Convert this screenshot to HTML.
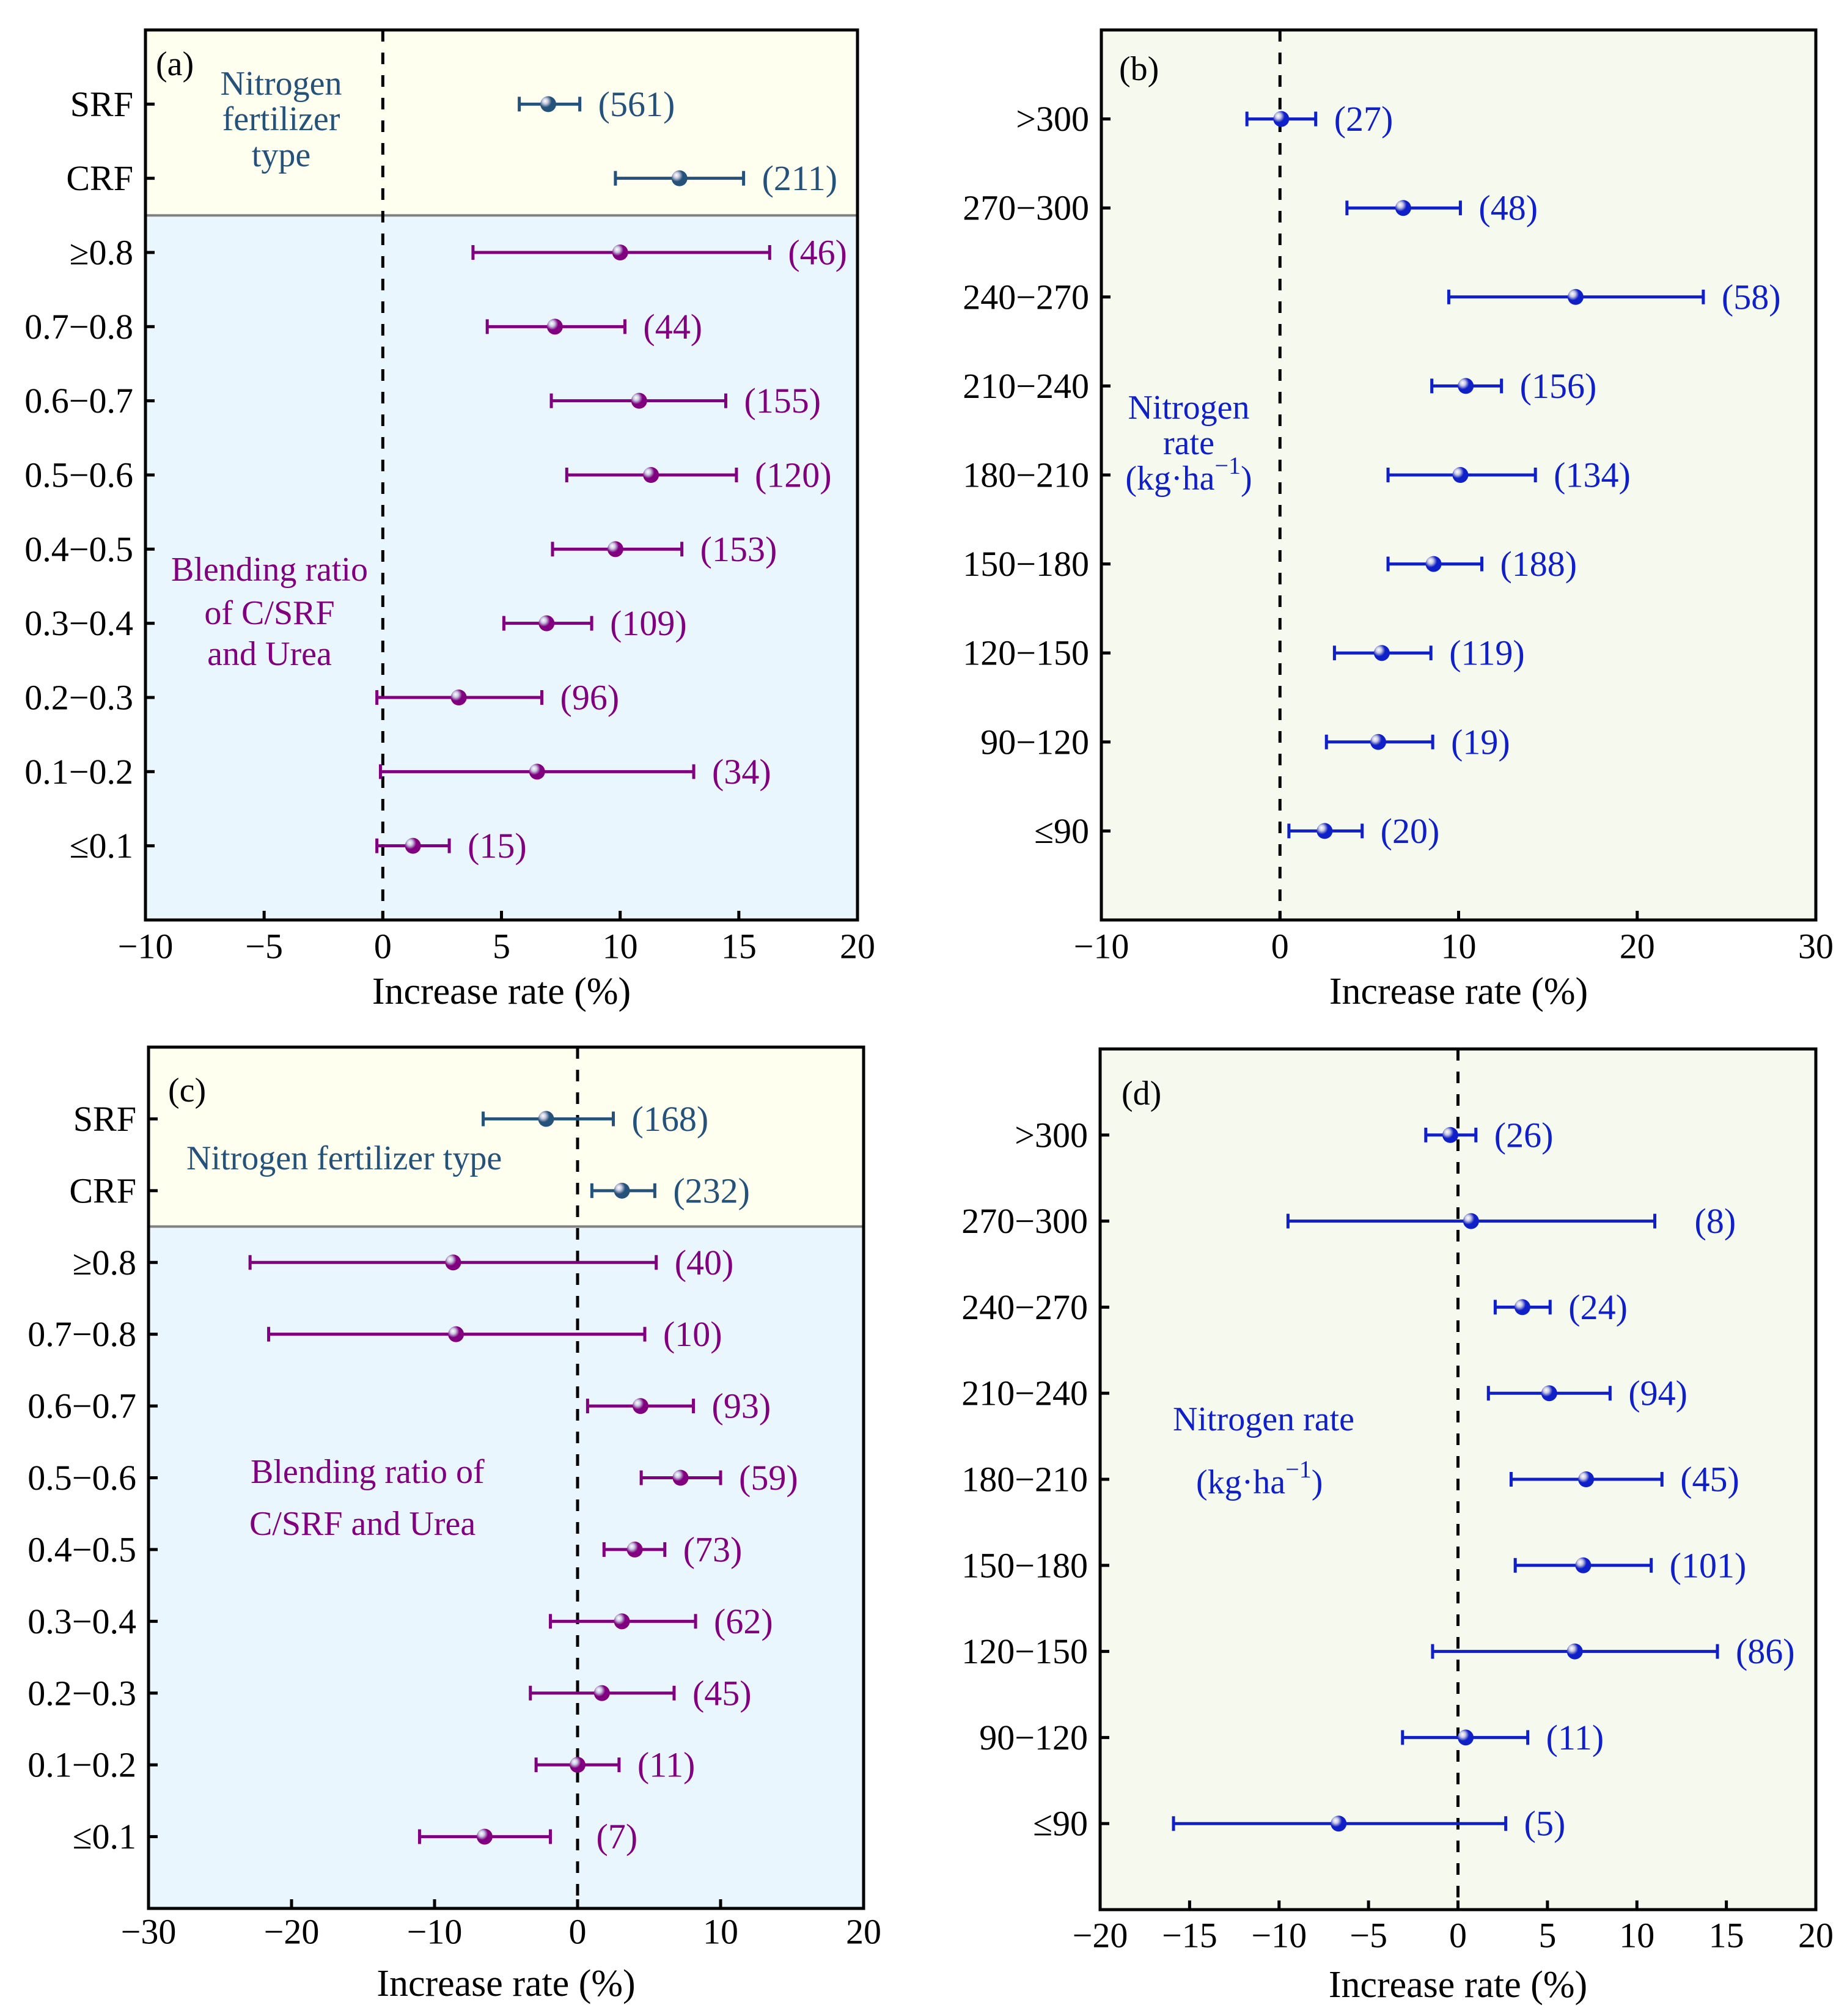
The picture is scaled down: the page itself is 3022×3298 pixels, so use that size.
<!DOCTYPE html>
<html><head><meta charset="utf-8"><style>
html,body{margin:0;padding:0;background:#fff;}
svg{display:block;font-family:"Liberation Serif","Times New Roman",serif;}
</style></head><body>
<svg id="fig" xmlns="http://www.w3.org/2000/svg" width="3022" height="3298" viewBox="0 0 3022 3298" font-family="Liberation Serif, serif">
<rect width="3022" height="3298" fill="#ffffff"/>
</svg>
<script>
// ---------- Panel (a) data ----------
const aCats = ["SRF","CRF","\u22650.8","0.7\u22120.8","0.6\u22120.7","0.5\u22120.6","0.4\u22120.5","0.3\u22120.4","0.2\u22120.3","0.1\u22120.2","\u22640.1"];
const aMean = [6.97,12.5,10.0,7.25,10.8,11.3,9.8,6.9,3.2,6.5,1.27];
const aLow  = [5.75,9.8,3.8,4.4,7.1,7.75,7.15,5.1,-0.25,-0.1,-0.25];
const aHigh = [8.3,15.2,16.3,10.2,14.45,14.9,12.6,8.8,6.7,13.1,2.8];
const aN    = ["(561)","(211)","(46)","(44)","(155)","(120)","(153)","(109)","(96)","(34)","(15)"];
const aTicks = [-10,-5,0,5,10,15,20];
// ---------- Panel (b) data ----------
const bCats = [">300","270\u2212300","240\u2212270","210\u2212240","180\u2212210","150\u2212180","120\u2212150","90\u2212120","\u226490"];
const bMean = [0.07,6.9,16.55,10.4,10.1,8.6,5.7,5.5,2.5];
const bLow  = [-1.85,3.75,9.45,8.5,6.05,6.05,3.05,2.6,0.5];
const bHigh = [2.0,10.1,23.7,12.4,14.3,11.3,8.45,8.55,4.6];
const bN    = ["(27)","(48)","(58)","(156)","(134)","(188)","(119)","(19)","(20)"];
const bTicks = [-10,0,10,20,30];
// ---------- Panel (c) data ----------
const cCats = aCats;
const cMean = [-2.2,3.1,-8.7,-8.5,4.4,7.2,4.0,3.1,1.7,0.0,-6.5];
const cLow  = [-6.6,1.0,-22.9,-21.6,0.7,4.45,1.85,-1.9,-3.3,-2.9,-11.05];
const cHigh = [2.5,5.4,5.5,4.7,8.1,10.0,6.1,8.25,6.75,2.9,-1.9];
const cN    = ["(168)","(232)","(40)","(10)","(93)","(59)","(73)","(62)","(45)","(11)","(7)"];
const cTicks = [-30,-20,-10,0,10,20];
// ---------- Panel (d) data ----------
const dCats = bCats;
const dMean = [-0.43,0.73,3.6,5.1,7.16,7.0,6.53,0.43,-6.67];
const dLow  = [-1.8,-9.5,2.08,1.7,2.97,3.2,-1.42,-3.1,-15.9];
const dHigh = [1.0,11.0,5.15,8.5,11.4,10.8,14.5,3.9,2.67];
const dN    = ["(26)","(8)","(24)","(94)","(45)","(101)","(86)","(11)","(5)"];
const dTicks = [-20,-15,-10,-5,0,5,10,15,20];

const NS="http://www.w3.org/2000/svg";
const svg=document.getElementById('fig');
function mk(tag,attrs,parent,text){const e=document.createElementNS(NS,tag);for(const k in attrs)e.setAttribute(k,attrs[k]);if(text!==undefined)e.textContent=text;(parent||svg).appendChild(e);return e;}

const defs=mk('defs',{});
function grad(id,dark){
  const g=mk('radialGradient',{id:id,cx:'0.35',cy:'0.35',r:'0.7',fx:'0.3',fy:'0.3'},defs);
  mk('stop',{offset:'0','stop-color':'#ffffff'},g);
  mk('stop',{offset:'0.25','stop-color':'#c8c8e0'},g);
  mk('stop',{offset:'0.55','stop-color':dark},g);
  mk('stop',{offset:'1','stop-color':dark},g);
}
grad('gNavy','#24527A');grad('gPurple','#800080');grad('gBlue','#1020C8');

function panel(p){
  const g=mk('g',{});
  
  
  const L=p.L,R=p.R,T=p.T,B=p.B;
  const xs=v=>L+(v-p.xmin)/(p.xmax-p.xmin)*(R-L);
  const ys=i=>T+(i+1)/(p.cats.length+1)*(B-T);
  if(p.split){
    const dy=(ys(1)+ys(2))/2;
    const r1=mk('rect',{x:L,y:T,width:R-L,height:dy-T,fill:'#FFFFF0'},g);
    
    
    const r2=mk('rect',{x:L,y:dy,width:R-L,height:B-dy,fill:'#EAF6FE'},g);
    
    
    const dl=mk('line',{x1:L,x2:R,y1:dy,y2:dy,stroke:'#808080','stroke-width':4},g);
    
    
  } else {
    const r=mk('rect',{x:L,y:T,width:R-L,height:B-T,fill:'#F6FAEE'},g);
    
    
  }
  const z=mk('line',{x1:xs(0),x2:xs(0),y1:T,y2:B,stroke:'#000','stroke-width':5,'stroke-dasharray':'19 18'},g);
  
  
  p.cats.forEach((c,i)=>{
    const col=(p.split&&i<2)?'#24527A':p.color;
    const gid=(p.split&&i<2)?'gNavy':p.gid;
    const y=ys(i);
    const eg=mk('g',{},g);
    
    
    mk('line',{x1:xs(p.lo[i]),x2:xs(p.hi[i]),y1:y,y2:y,stroke:col,'stroke-width':5},eg);
    mk('line',{x1:xs(p.lo[i]),x2:xs(p.lo[i]),y1:y-12,y2:y+12,stroke:col,'stroke-width':5},eg);
    mk('line',{x1:xs(p.hi[i]),x2:xs(p.hi[i]),y1:y-12,y2:y+12,stroke:col,'stroke-width':5},eg);
    const pt=mk('circle',{cx:xs(p.mean[i]),cy:y,r:13,fill:'url(#'+gid+')'},g);
    
    
    const extra=(p.shift&&p.shift[i])?p.shift[i]:0;
    const t=mk('text',{x:xs(p.hi[i])+30+extra,y:y,'font-size':58,fill:col,'dominant-baseline':'central'},g,p.n[i]);
    
    
    mk('line',{x1:L,x2:L+15,y1:y,y2:y,stroke:'#000','stroke-width':5},g);
    const yl=mk('text',{x:L-20,y:y,'font-size':58,'text-anchor':'end','dominant-baseline':'central',fill:'#000'},g,c);
    
    
  });
  p.ticks.forEach(v=>{
    mk('line',{x1:xs(v),x2:xs(v),y1:B,y2:B-15,stroke:'#000','stroke-width':5},g);
    const tl=mk('text',{x:xs(v),y:p.tickY,'font-size':58,'text-anchor':'middle','dominant-baseline':'central',fill:'#000'},g,v<0?'\u2212'+(-v):String(v));
    
    
  });
  const fr=mk('rect',{x:L,y:T,width:R-L,height:B-T,fill:'none',stroke:'#000','stroke-width':5},g);
  
  
  const xt=mk('text',{x:(L+R)/2,y:p.titleY,'font-size':62,'text-anchor':'middle','dominant-baseline':'central',fill:'#000'},g,'Increase rate (%)');
  
  
  const pl=mk('text',{x:p.lab[0],y:p.lab[1],'font-size':56,'dominant-baseline':'central',fill:'#000'},g,p.label);
  
  
  p.notes.forEach(n=>{
    const a=mk('text',{x:n[0],y:n[1],'font-size':56,'text-anchor':n[3],'dominant-baseline':'central',fill:n[4]},g);
    
    
    if(n[2]==='KG'){
      mk('tspan',{},a,'(kg\u00b7ha');
      mk('tspan',{dy:-22,'font-size':40},a,'\u22121');
      mk('tspan',{dy:22},a,')');
    } else a.textContent=n[2];
  });
}
const NV='#24527A',PU='#800080',BL='#1020C8';
panel({name:'panel-a',L:238,R:1403,T:49,B:1505,xmin:-10,xmax:20,cats:aCats,mean:aMean,lo:aLow,hi:aHigh,n:aN,ticks:aTicks,split:true,color:PU,gid:'gPurple',tickY:1548,titleY:1622,label:'(a)',lab:[255,105],
  notes:[[460,137,'Nitrogen','middle',NV],[460,195,'fertilizer','middle',NV],[460,254,'type','middle',NV],
         [441,932,'Blending ratio','middle',PU],[441,1003,'of C/SRF','middle',PU],[441,1070,'and Urea','middle',PU]]});
panel({name:'panel-b',L:1802,R:2971,T:49,B:1505,xmin:-10,xmax:30,cats:bCats,mean:bMean,lo:bLow,hi:bHigh,n:bN,ticks:bTicks,split:false,color:BL,gid:'gBlue',tickY:1548,titleY:1622,label:'(b)',lab:[1831,113],
  notes:[[1945,667,'Nitrogen','middle',BL],[1945,725,'rate','middle',BL],[1945,783,'KG','middle',BL]]});
panel({name:'panel-c',L:243,R:1413,T:1713,B:3122,xmin:-30,xmax:20,cats:cCats,mean:cMean,lo:cLow,hi:cHigh,n:cN,ticks:cTicks,split:true,color:PU,gid:'gPurple',tickY:3160,titleY:3245,label:'(c)',lab:[275,1784],
  shift:[0,0,0,0,0,0,0,0,0,0,45],
  notes:[[305,1895,'Nitrogen fertilizer type','start',NV],[410,2408,'Blending ratio of','start',PU],[408,2493,'C/SRF and Urea','start',PU]]});
panel({name:'panel-d',L:1800,R:2971,T:1716,B:3124,xmin:-20,xmax:20,cats:dCats,mean:dMean,lo:dLow,hi:dHigh,n:dN,ticks:dTicks,split:false,color:BL,gid:'gBlue',tickY:3166,titleY:3247,label:'(d)',lab:[1835,1789],
  shift:[0,35,0,0,0,0,0,0,0],
  notes:[[1919,2322,'Nitrogen rate','start',BL],[1957,2425,'KG','start',BL]]});
</script>
</body></html>
